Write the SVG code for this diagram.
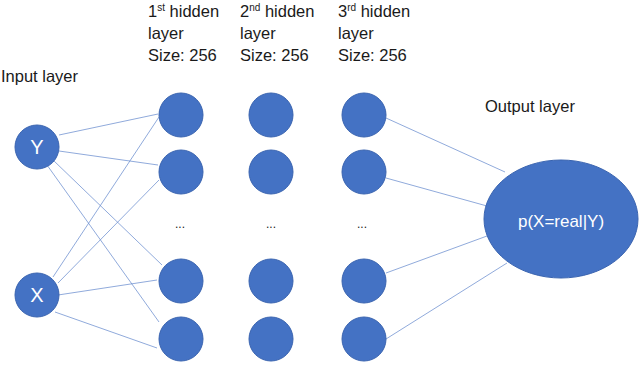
<svg xmlns="http://www.w3.org/2000/svg" width="640" height="370" viewBox="0 0 640 370">
<style>
.n{fill:#4472C4;stroke:#3a64b0;stroke-width:1}
.e{stroke:#6b8dcf;stroke-width:0.75;fill:none}
.t{font-family:"Liberation Sans",Arial,sans-serif;font-size:16.5px;fill:#1a1a1a}
.w{font-family:"Liberation Sans",Arial,sans-serif;fill:#fff}
.s{font-size:10px}
.d{font-family:"Liberation Sans",Arial,sans-serif;font-size:12px;fill:#1a1a1a}
</style>
<rect width="640" height="370" fill="#fff"/>
<g id="labels">
<text class="t" x="148" y="17">1<tspan class="s" dy="-6">st</tspan><tspan dy="6"> hidden</tspan></text>
<text class="t" x="148" y="39">layer</text>
<text class="t" x="148" y="61">Size: 256</text>
<text class="t" x="240" y="17">2<tspan class="s" dy="-6">nd</tspan><tspan dy="6"> hidden</tspan></text>
<text class="t" x="240" y="39">layer</text>
<text class="t" x="240" y="61">Size: 256</text>
<text class="t" x="338" y="17">3<tspan class="s" dy="-6">rd</tspan><tspan dy="6"> hidden</tspan></text>
<text class="t" x="338" y="39">layer</text>
<text class="t" x="338" y="61">Size: 256</text>
<text class="t" x="1" y="82">Input layer</text>
<text class="t" x="485" y="112">Output layer</text>
<text class="d" x="180" y="228" text-anchor="middle">...</text>
<text class="d" x="271" y="228" text-anchor="middle">...</text>
<text class="d" x="362" y="228" text-anchor="middle">...</text>
</g>
<g id="connectors">
<line class="e" x1="59" y1="135" x2="158" y2="114"/>
<line class="e" x1="59" y1="151" x2="158" y2="165"/>
<line class="e" x1="53" y1="160" x2="162" y2="265"/>
<line class="e" x1="47" y1="165" x2="159" y2="322"/>
<line class="e" x1="53" y1="277" x2="159" y2="117"/>
<line class="e" x1="58" y1="283" x2="159" y2="180"/>
<line class="e" x1="58" y1="295" x2="157" y2="280"/>
<line class="e" x1="55" y1="312" x2="157" y2="348"/>
<line class="e" x1="386" y1="118" x2="505" y2="172"/>
<line class="e" x1="386" y1="178" x2="487" y2="206"/>
<line class="e" x1="386" y1="273" x2="487" y2="236"/>
<line class="e" x1="386" y1="339" x2="507" y2="263"/>
</g>
<g id="input-Y"><circle class="n" cx="37" cy="147" r="22"/><text class="w" x="37" y="154" font-size="20" text-anchor="middle">Y</text></g>
<g id="input-X"><circle class="n" cx="37" cy="295" r="22"/><text class="w" x="37" y="302" font-size="20" text-anchor="middle">X</text></g>
<g id="h1-1"><circle class="n" cx="181" cy="115" r="22"/></g>
<g id="h1-2"><circle class="n" cx="181" cy="172" r="22"/></g>
<g id="h1-3"><circle class="n" cx="181" cy="281" r="22"/></g>
<g id="h1-4"><circle class="n" cx="181" cy="339" r="22"/></g>
<g id="h2-1"><circle class="n" cx="271" cy="115" r="22"/></g>
<g id="h2-2"><circle class="n" cx="271" cy="172" r="22"/></g>
<g id="h2-3"><circle class="n" cx="271" cy="281" r="22"/></g>
<g id="h2-4"><circle class="n" cx="271" cy="339" r="22"/></g>
<g id="h3-1"><circle class="n" cx="364" cy="115" r="22"/></g>
<g id="h3-2"><circle class="n" cx="364" cy="172" r="22"/></g>
<g id="h3-3"><circle class="n" cx="364" cy="281" r="22"/></g>
<g id="h3-4"><circle class="n" cx="364" cy="339" r="22"/></g>
<g id="output"><ellipse class="n" cx="561" cy="219" rx="77" ry="59"/><text class="w" x="561" y="227" font-size="17" text-anchor="middle">p(X=real|Y)</text></g>
</svg>
